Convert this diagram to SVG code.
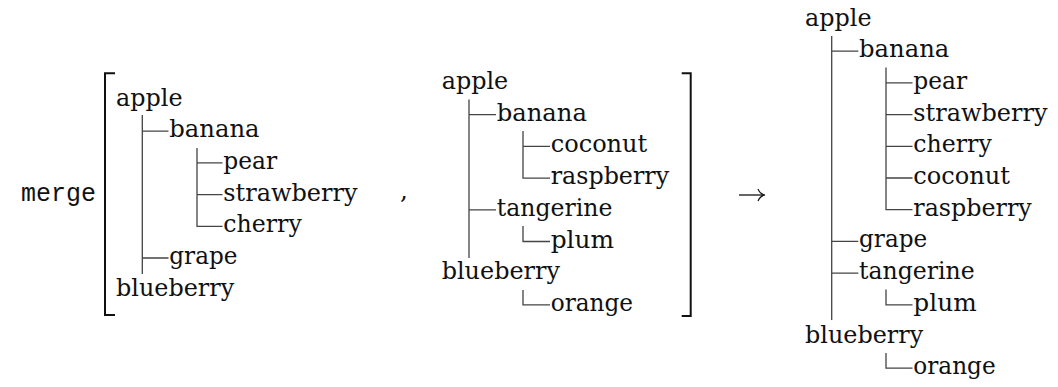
<svg xmlns="http://www.w3.org/2000/svg" width="1058" height="387" viewBox="0 0 1058 387">
<style>
text{font-family:"DejaVu Serif","Liberation Serif","Noto Serif",serif;font-size:25px;fill:#111}
.tt{font-family:"Liberation Mono","DejaVu Sans Mono",monospace;font-size:26px}
.ln{stroke:#444;stroke-width:1.3;fill:none}
.br{stroke:#111;stroke-width:2;fill:none}
</style>
<rect width="1058" height="387" fill="#fff"/>
<g id="merge-label"><text class="tt" x="21" y="201" textLength="75" lengthAdjust="spacingAndGlyphs">merge</text></g>
<g id="brackets">
<path class="br" d="M115,73.3 H105 V315 H115"/>
<path class="br" d="M681.7,73.3 H690.7 V316 H681.7"/>
</g>
<g id="comma"><text x="400" y="199">,</text></g>
<g id="arrow">
<path d="M739,195 H764" stroke="#111" stroke-width="1.3" fill="none"/>
<path d="M758,189 Q760,194 765,195 Q760,196 758,201" stroke="#111" stroke-width="1.2" fill="none"/>
</g>
<g id="tree-left">
<text x="116" y="105.5" textLength="66.5" lengthAdjust="spacingAndGlyphs">apple</text>
<text x="169.3" y="137.2" textLength="90.3" lengthAdjust="spacingAndGlyphs">banana</text>
<text x="223.3" y="168.9" textLength="53.9" lengthAdjust="spacingAndGlyphs">pear</text>
<text x="223.3" y="200.6" textLength="134.2" lengthAdjust="spacingAndGlyphs">strawberry</text>
<text x="223.3" y="232.3" textLength="78.5" lengthAdjust="spacingAndGlyphs">cherry</text>
<text x="169.3" y="264" textLength="68.2" lengthAdjust="spacingAndGlyphs">grape</text>
<text x="116" y="295.7" textLength="118.2" lengthAdjust="spacingAndGlyphs">blueberry</text>
</g>
<g id="tree-middle">
<text x="441.7" y="89" textLength="66.5" lengthAdjust="spacingAndGlyphs">apple</text>
<text x="496.7" y="120.7" textLength="90.3" lengthAdjust="spacingAndGlyphs">banana</text>
<text x="550.7" y="152.4" textLength="96.6" lengthAdjust="spacingAndGlyphs">coconut</text>
<text x="550.7" y="184.1" textLength="118.4" lengthAdjust="spacingAndGlyphs">raspberry</text>
<text x="496.7" y="215.8" textLength="115.7" lengthAdjust="spacingAndGlyphs">tangerine</text>
<text x="550.7" y="247.5" textLength="63.4" lengthAdjust="spacingAndGlyphs">plum</text>
<text x="441.7" y="279.2" textLength="118.2" lengthAdjust="spacingAndGlyphs">blueberry</text>
<text x="550.7" y="310.9" textLength="82.4" lengthAdjust="spacingAndGlyphs">orange</text>
</g>
<g id="tree-right">
<text x="805" y="25.5" textLength="66.5" lengthAdjust="spacingAndGlyphs">apple</text>
<text x="859" y="57.2" textLength="90.3" lengthAdjust="spacingAndGlyphs">banana</text>
<text x="913.3" y="88.9" textLength="53.9" lengthAdjust="spacingAndGlyphs">pear</text>
<text x="913.3" y="120.6" textLength="134.2" lengthAdjust="spacingAndGlyphs">strawberry</text>
<text x="913.3" y="152.3" textLength="78.5" lengthAdjust="spacingAndGlyphs">cherry</text>
<text x="913.3" y="184" textLength="96.6" lengthAdjust="spacingAndGlyphs">coconut</text>
<text x="913.3" y="215.7" textLength="118.4" lengthAdjust="spacingAndGlyphs">raspberry</text>
<text x="859" y="247.4" textLength="68.2" lengthAdjust="spacingAndGlyphs">grape</text>
<text x="859" y="279.1" textLength="115.7" lengthAdjust="spacingAndGlyphs">tangerine</text>
<text x="913.3" y="310.8" textLength="63.4" lengthAdjust="spacingAndGlyphs">plum</text>
<text x="805" y="342.5" textLength="118.2" lengthAdjust="spacingAndGlyphs">blueberry</text>
<text x="913.3" y="374.2" textLength="82.4" lengthAdjust="spacingAndGlyphs">orange</text>
</g>
<g id="connectors">
<path class="ln" d="M142.3,115 V274 M142.3,131.2 H168.5 M142.3,258 H168.5"/>
<path class="ln" d="M197,148 V226.3 H222.5 M197,162.9 H222.5 M197,194.6 H222.5"/>
<path class="ln" d="M469,99.5 V258 M469,114.7 H496 M469,209.8 H496"/>
<path class="ln" d="M523,131 V178.1 H550 M523,146.4 H550"/>
<path class="ln" d="M523,226 V241.5 H550"/>
<path class="ln" d="M523,290 V304.9 H550"/>
<path class="ln" d="M831.7,36 V320 M831.7,51.2 H858.3 M831.7,241.4 H858.3 M831.7,273.1 H858.3"/>
<path class="ln" d="M886,67.5 V209.7 H912.5 M886,82.9 H912.5 M886,114.6 H912.5 M886,146.3 H912.5 M886,178 H912.5"/>
<path class="ln" d="M886,289.5 V304.8 H912.5"/>
<path class="ln" d="M886,353 V368.2 H912.5"/>
</g>
</svg>
